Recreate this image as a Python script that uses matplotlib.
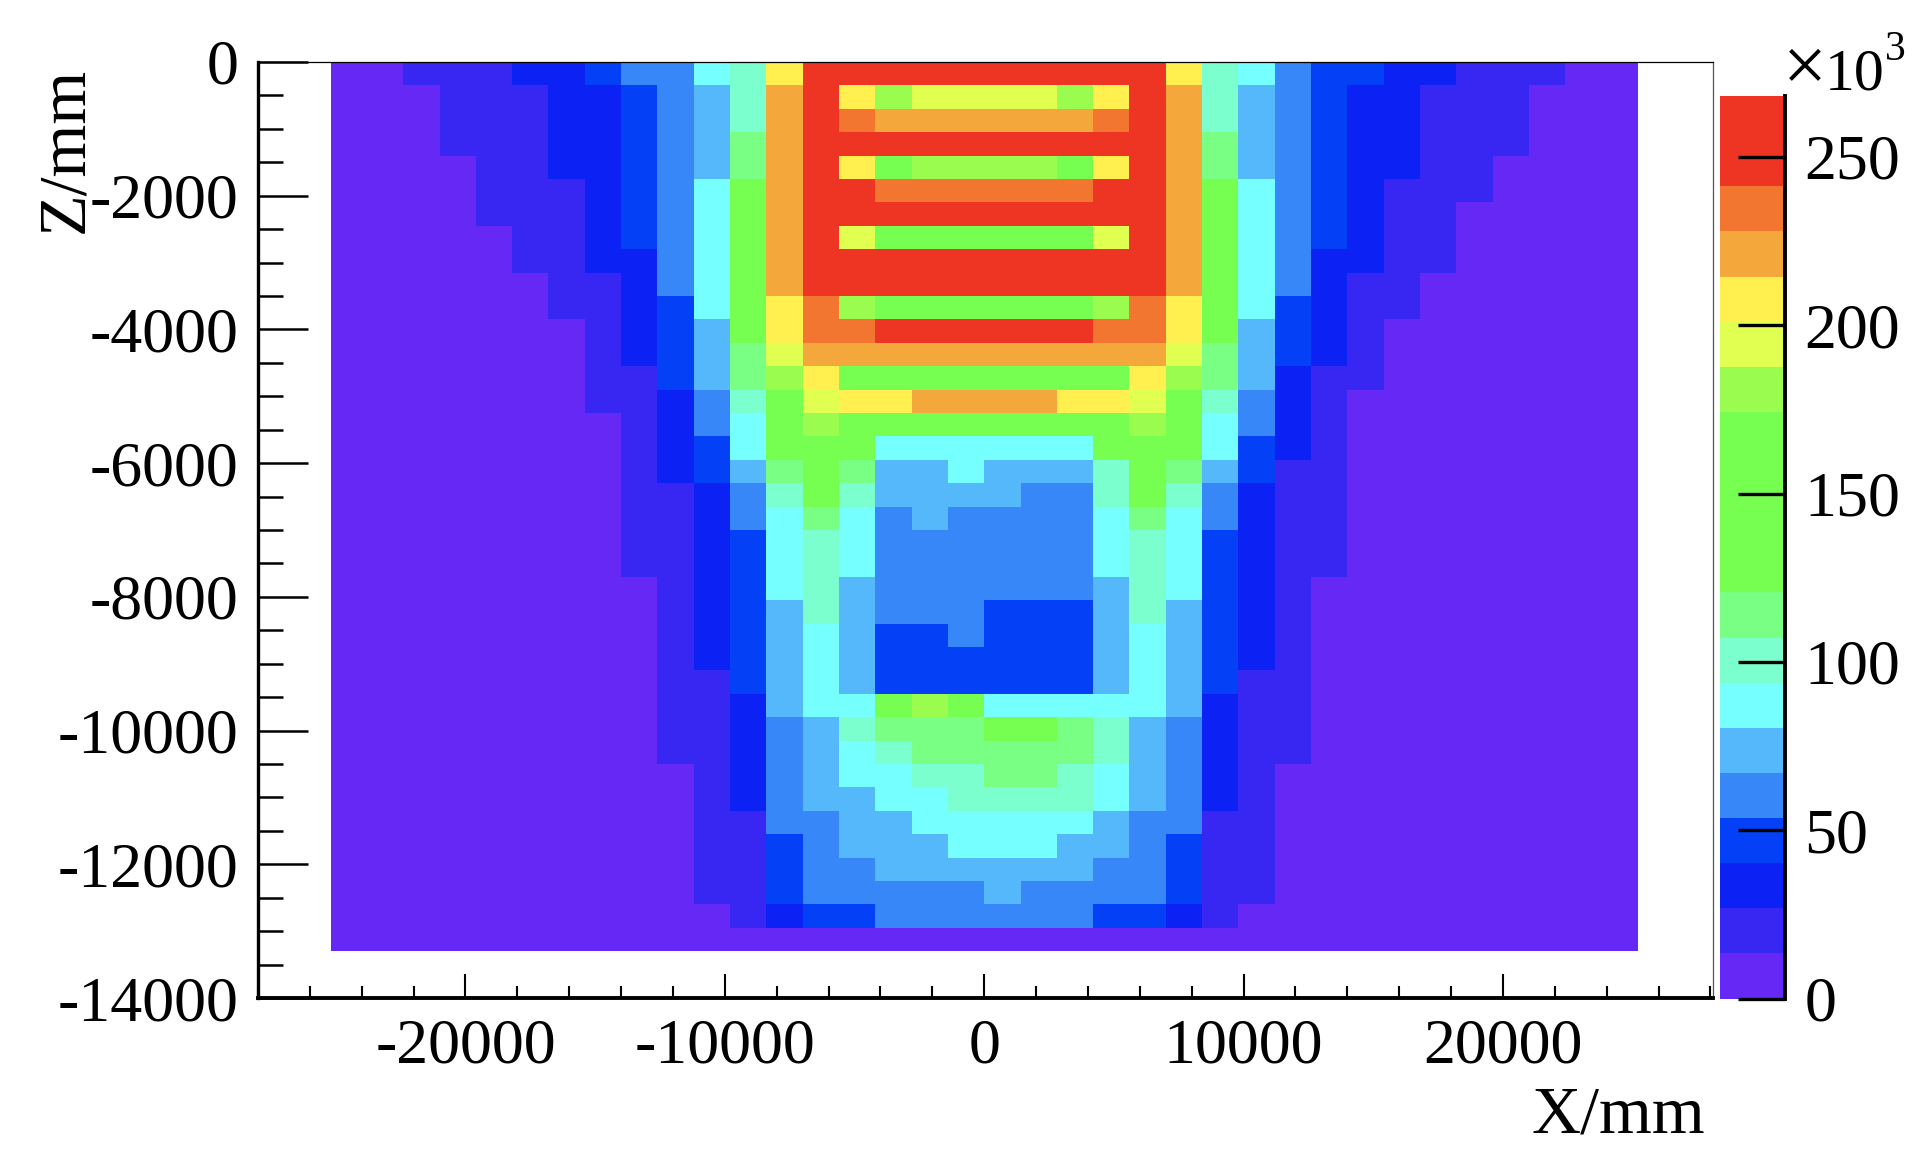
import matplotlib
matplotlib.use("Agg")
import matplotlib.pyplot as plt
from matplotlib.colors import ListedColormap, BoundaryNorm
from matplotlib.ticker import MultipleLocator
import numpy as np

plt.rcParams['font.family'] = ['Liberation Serif', 'DejaVu Serif']

counts = [
    [7,7,20,20,20,33,33,46,60,60,86,100,206,252,252,252,252,252, 252,252,252,252,252,206,100,86,60,46,46,33,33,20,20,20,7,7],
    [7,7,7,20,20,20,33,33,46,60,73,100,219,252,206,179,193,193, 193,193,179,206,252,219,100,73,60,46,33,33,20,20,20,7,7,7],
    [7,7,7,20,20,20,33,33,46,60,73,100,219,252,232,219,219,219, 219,219,219,232,252,219,100,73,60,46,33,33,20,20,20,7,7,7],
    [7,7,7,20,20,20,33,33,46,60,73,113,219,252,252,252,252,252, 252,252,252,252,252,219,113,73,60,46,33,33,20,20,20,7,7,7],
    [7,7,7,7,20,20,33,33,46,60,73,113,219,252,206,146,179,179, 179,179,146,206,252,219,113,73,60,46,33,33,20,20,7,7,7,7],
    [7,7,7,7,20,20,20,33,46,60,86,146,219,252,252,232,232,232, 232,232,232,252,252,219,146,86,60,46,33,20,20,20,7,7,7,7],
    [7,7,7,7,20,20,20,33,46,60,86,146,219,252,252,252,252,252, 252,252,252,252,252,219,146,86,60,46,33,20,20,7,7,7,7,7],
    [7,7,7,7,7,20,20,33,46,60,86,146,219,252,193,146,146,146, 146,146,146,193,252,219,146,86,60,46,33,20,20,7,7,7,7,7],
    [7,7,7,7,7,20,20,33,33,60,86,146,219,252,252,252,252,252, 252,252,252,252,252,219,146,86,60,33,33,20,20,7,7,7,7,7],
    [7,7,7,7,7,7,20,20,33,60,86,146,219,252,252,252,252,252, 252,252,252,252,252,219,146,86,60,33,20,20,7,7,7,7,7,7],
    [7,7,7,7,7,7,20,20,33,46,86,146,206,232,179,146,146,146, 146,146,146,179,232,206,146,86,46,33,20,20,7,7,7,7,7,7],
    [7,7,7,7,7,7,7,20,33,46,73,146,206,232,232,252,252,252, 252,252,252,232,232,206,146,73,46,33,20,7,7,7,7,7,7,7],
    [7,7,7,7,7,7,7,20,33,46,73,113,193,219,219,219,219,219, 219,219,219,219,219,193,113,73,46,33,20,7,7,7,7,7,7,7],
    [7,7,7,7,7,7,7,20,20,46,73,113,179,206,146,146,146,146, 146,146,146,146,206,179,113,73,33,20,20,7,7,7,7,7,7,7],
    [7,7,7,7,7,7,7,20,20,33,60,100,146,193,206,206,219,219, 219,219,206,206,193,146,100,60,33,20,7,7,7,7,7,7,7,7],
    [7,7,7,7,7,7,7,7,20,33,60,86,146,179,146,146,146,146, 146,146,146,146,179,146,86,60,33,20,7,7,7,7,7,7,7,7],
    [7,7,7,7,7,7,7,7,20,33,46,86,146,146,146,86,86,86, 86,86,86,146,146,146,86,46,33,20,7,7,7,7,7,7,7,7],
    [7,7,7,7,7,7,7,7,20,33,46,73,113,146,113,73,73,86, 73,73,73,100,146,113,73,46,20,20,7,7,7,7,7,7,7,7],
    [7,7,7,7,7,7,7,7,20,20,33,60,100,146,100,73,73,73, 73,60,60,100,146,100,60,33,20,20,7,7,7,7,7,7,7,7],
    [7,7,7,7,7,7,7,7,20,20,33,60,86,113,86,60,73,60, 60,60,60,86,113,86,60,33,20,20,7,7,7,7,7,7,7,7],
    [7,7,7,7,7,7,7,7,20,20,33,46,86,100,86,60,60,60, 60,60,60,86,100,86,46,33,20,20,7,7,7,7,7,7,7,7],
    [7,7,7,7,7,7,7,7,20,20,33,46,86,100,86,60,60,60, 60,60,60,86,100,86,46,33,20,20,7,7,7,7,7,7,7,7],
    [7,7,7,7,7,7,7,7,7,20,33,46,86,100,73,60,60,60, 60,60,60,73,100,86,46,33,20,7,7,7,7,7,7,7,7,7],
    [7,7,7,7,7,7,7,7,7,20,33,46,73,100,73,60,60,60, 46,46,46,73,100,73,46,33,20,7,7,7,7,7,7,7,7,7],
    [7,7,7,7,7,7,7,7,7,20,33,46,73,86,73,46,46,60, 46,46,46,73,86,73,46,33,20,7,7,7,7,7,7,7,7,7],
    [7,7,7,7,7,7,7,7,7,20,33,46,73,86,73,46,46,46, 46,46,46,73,86,73,46,33,20,7,7,7,7,7,7,7,7,7],
    [7,7,7,7,7,7,7,7,7,20,20,46,73,86,73,46,46,46, 46,46,46,73,86,73,46,20,20,7,7,7,7,7,7,7,7,7],
    [7,7,7,7,7,7,7,7,7,20,20,33,73,86,86,146,179,146, 86,86,86,86,86,73,33,20,20,7,7,7,7,7,7,7,7,7],
    [7,7,7,7,7,7,7,7,7,20,20,33,60,73,100,113,113,113, 146,146,113,100,73,60,33,20,20,7,7,7,7,7,7,7,7,7],
    [7,7,7,7,7,7,7,7,7,20,20,33,60,73,86,100,113,113, 113,113,113,100,73,60,33,20,20,7,7,7,7,7,7,7,7,7],
    [7,7,7,7,7,7,7,7,7,7,20,33,60,73,86,86,100,100, 113,113,100,86,73,60,33,20,7,7,7,7,7,7,7,7,7,7],
    [7,7,7,7,7,7,7,7,7,7,20,33,60,73,73,86,86,100, 100,100,100,86,73,60,33,20,7,7,7,7,7,7,7,7,7,7],
    [7,7,7,7,7,7,7,7,7,7,20,20,60,60,73,73,86,86, 86,86,86,73,60,60,20,20,7,7,7,7,7,7,7,7,7,7],
    [7,7,7,7,7,7,7,7,7,7,20,20,46,60,73,73,73,86, 86,86,73,73,60,46,20,20,7,7,7,7,7,7,7,7,7,7],
    [7,7,7,7,7,7,7,7,7,7,20,20,46,60,60,73,73,73, 73,73,73,60,60,46,20,20,7,7,7,7,7,7,7,7,7,7],
    [7,7,7,7,7,7,7,7,7,7,20,20,46,60,60,60,60,60, 73,60,60,60,60,46,20,20,7,7,7,7,7,7,7,7,7,7],
    [7,7,7,7,7,7,7,7,7,7,7,20,33,46,46,60,60,60, 60,60,60,46,46,33,20,7,7,7,7,7,7,7,7,7,7,7],
    [7,7,7,7,7,7,7,7,7,7,7,7,7,7,7,7,7,7, 7,7,7,7,7,7,7,7,7,7,7,7,7,7,7,7,7,7],
]

x_ticks = [-20000, -10000, 0, 10000, 20000]
z_ticks = [0, -2000, -4000, -6000, -8000, -10000, -12000, -14000]
bar_ticks = [0, 50, 100, 150, 200, 250]

# palette of the 20 contour levels, bottom to top
level_colors = ["#6528F5", "#3826F2", "#0C22F5", "#0440F5", "#3887F8", "#55B8FA",
                "#76FFFF", "#7CFFCF", "#7AFF85", "#76FF50", "#76FF50", "#76FF50",
                "#76FF50", "#9AFC4E", "#E1FF50", "#FFF050", "#F4A83C", "#F27630",
                "#EE3524", "#EE3524"]
z_max = 268.1

W, H = 1924, 1162
fs = 46
fs_title = 49


def box(x0, y0, x1, y1):
    # pixel box of the reference to figure fractions
    return [x0 / W, 1 - y1 / H, (x1 - x0) / W, (y1 - y0) / H]


fig = plt.figure(figsize=(W / 100, H / 100), dpi=100, facecolor="white")
ax = fig.add_axes(box(258, 62, 1713, 998))

x_edges = np.arange(-25200, 25201, 1400)
z_edges = np.arange(0, -13301, -350)
levels = np.linspace(0, z_max, 21)
cmap = ListedColormap(level_colors)
norm = BoundaryNorm(levels, cmap.N)
mesh = ax.pcolormesh(x_edges, z_edges, np.array(counts), cmap=cmap, norm=norm,
                     linewidth=0, antialiased=False)

ax.set_xlim(-28000, 28100)
ax.set_ylim(-14000, 0)
ax.set_xticks(x_ticks)
ax.set_xticklabels([str(v) for v in x_ticks])
ax.set_yticks(z_ticks)
ax.set_yticklabels([str(v) for v in z_ticks])
ax.xaxis.set_minor_locator(MultipleLocator(2000))
ax.yaxis.set_minor_locator(MultipleLocator(500))
ax.tick_params(axis="x", which="major", direction="in", length=17, width=1.5,
               labelsize=fs, pad=15)
ax.tick_params(axis="x", which="minor", direction="in", length=9, width=1.5)
ax.tick_params(axis="y", which="major", direction="in", length=36, width=1.8,
               labelsize=fs, pad=14)
ax.tick_params(axis="y", which="minor", direction="in", length=18, width=1.8)

ax.spines["left"].set_linewidth(2.4)
ax.spines["bottom"].set_linewidth(2.8)
ax.spines["top"].set_linewidth(0.9)
ax.spines["right"].set_linewidth(0.9)
ax.spines["right"].set_color("#555555")

fig.text(1705 / W, 1 - 1133 / H, "X/mm", fontsize=fs_title, ha="right", va="baseline")
fig.text(96 / W, 1 - 67 / H, "Z/mm", fontsize=fs_title, rotation=90, ha="right", va="top")

# colour bar
cax = fig.add_axes(box(1720, 96, 1785, 998.5))
cbar = fig.colorbar(mesh, cax=cax, ticks=bar_ticks, spacing="proportional")
cbar.outline.set_visible(False)
cbar.ax.minorticks_off()
cbar.ax.tick_params(direction="in", length=34, width=2.4, labelsize=fs, pad=14)
cbar.ax.set_yticklabels([str(v) for v in bar_ticks])
cax.axvline(1, color="black", lw=2.8, clip_on=False)

fig.text(1783 / W, 1 - 90 / H, "×", fontsize=56, ha="left", va="baseline")
fig.text(1825 / W, 1 - 90 / H, "10", fontsize=43, ha="left", va="baseline")
fig.text(1885 / W, 1 - 60 / H, "3", fontsize=30, ha="left", va="baseline")

fig.savefig("out.png", dpi=100)
